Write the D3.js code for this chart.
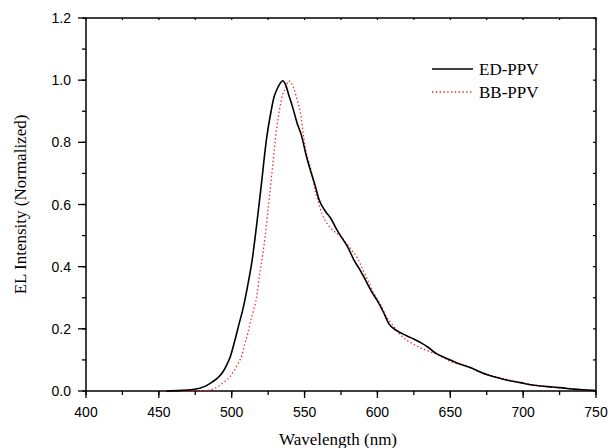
<!doctype html>
<html lang="en">
<head>
    <meta charset="UTF-8">
    <title>EL spectra</title>
    <style>
        html, body { margin: 0; padding: 0; background: #fff; }
        svg { display: block; }
        .tick-label { font-family: "Liberation Sans", Arial, sans-serif; font-size: 14px; fill: #000; }
        .title { font-family: "Liberation Serif", "Times New Roman", serif; font-size: 17px; fill: #000; }
    </style>
</head>
<body>
<svg id="chart" width="608" height="448"></svg>

<script src="https://cdn.jsdelivr.net/npm/d3@7"></script>
<script>
  // values (wavelength nm, normalized intensity)
  const edWavelength = [455, 465, 472, 478, 483, 487, 491, 494, 497, 499, 502, 505, 508, 511, 514, 517, 520, 524, 527, 529, 531, 533, 535, 537, 539, 542, 545, 548, 551, 554, 557, 560, 564, 568, 572, 576, 580, 584, 588, 592, 596, 600, 604, 608, 613, 620, 625, 630, 635, 640, 645, 650, 657, 665, 670, 677, 684, 690, 698, 705, 712, 720, 727, 735, 742, 750]
  const edIntensity = [0, 0.002, 0.004, 0.009, 0.018, 0.03, 0.045, 0.062, 0.088, 0.11, 0.16, 0.215, 0.27, 0.34, 0.42, 0.53, 0.65, 0.815, 0.9, 0.945, 0.97, 0.988, 0.998, 0.985, 0.955, 0.91, 0.86, 0.82, 0.76, 0.71, 0.665, 0.615, 0.58, 0.555, 0.52, 0.49, 0.46, 0.42, 0.39, 0.355, 0.32, 0.29, 0.255, 0.215, 0.195, 0.178, 0.167, 0.155, 0.14, 0.122, 0.11, 0.1, 0.086, 0.073, 0.062, 0.05, 0.041, 0.034, 0.027, 0.02, 0.016, 0.013, 0.01, 0.006, 0.004, 0.001]

  const bbWavelength = [455, 470, 480, 485, 489, 492, 495, 499, 502, 504.5, 507, 509, 511, 513, 515, 517, 519, 521, 523, 526, 528, 531, 533, 535, 537, 539, 541, 543, 545, 547, 549, 551, 553, 555, 557, 559, 562, 566, 570, 574, 578, 582, 586, 590, 594, 598, 602, 606, 610, 615, 620, 625, 630, 635, 640, 645, 650, 657, 665, 672, 680, 690, 700, 710, 720, 730, 740, 750]
  const bbIntensity = [0, 0, 0.001, 0.003, 0.01, 0.019, 0.03, 0.047, 0.068, 0.089, 0.115, 0.153, 0.185, 0.225, 0.26, 0.3, 0.37, 0.43, 0.5, 0.63, 0.72, 0.85, 0.91, 0.955, 0.975, 0.998, 0.99, 0.968, 0.935, 0.9, 0.83, 0.77, 0.735, 0.7, 0.65, 0.615, 0.57, 0.535, 0.515, 0.5, 0.48, 0.455, 0.43, 0.39, 0.35, 0.31, 0.28, 0.24, 0.215, 0.185, 0.164, 0.15, 0.138, 0.128, 0.12, 0.108, 0.095, 0.085, 0.072, 0.058, 0.047, 0.036, 0.025, 0.018, 0.012, 0.008, 0.004, 0]

  const seriesNames = ['ED-PPV', 'BB-PPV']
  const xTicks = [400, 450, 500, 550, 600, 650, 700, 750]
  const yTicks = [0.0, 0.2, 0.4, 0.6, 0.8, 1.0, 1.2]

  const margin = {left: 86, right: 12, top: 18, bottom: 57}
  const width = 608 - margin.left - margin.right
  const height = 448 - margin.top - margin.bottom

  const svg = d3.select('#chart')
  const g = svg.append('g').attr('transform', `translate(${margin.left},${margin.top})`)

  const x = d3.scaleLinear().domain([400, 750]).range([0, width])
  const y = d3.scaleLinear().domain([0, 1.2]).range([height, 0])

  // minor ticks
  const xMinor = d3.range(400, 751, 25)
  const yMinor = d3.range(0, 1.21, 0.1)

  // bottom axis
  const bottom = g.append('g').attr('transform', `translate(0,${height})`)
  bottom.selectAll('line.minor').data(xMinor).join('line')
    .attr('x1', d => x(d)).attr('x2', d => x(d)).attr('y1', 0).attr('y2', 4)
    .attr('stroke', '#000').attr('stroke-width', 1.3)
  bottom.selectAll('line.major').data(xTicks).join('line')
    .attr('x1', d => x(d)).attr('x2', d => x(d)).attr('y1', 0).attr('y2', 7)
    .attr('stroke', '#000').attr('stroke-width', 1.3)
  bottom.selectAll('text').data(xTicks).join('text')
    .attr('class', 'tick-label')
    .attr('x', d => x(d)).attr('y', 26)
    .attr('text-anchor', 'middle')
    .text(d => d)

  // left axis
  const left = g.append('g')
  left.selectAll('line.minor').data(yMinor).join('line')
    .attr('x1', -4).attr('x2', 0).attr('y1', d => y(d)).attr('y2', d => y(d))
    .attr('stroke', '#000').attr('stroke-width', 1.3)
  left.selectAll('line.major').data(yTicks).join('line')
    .attr('x1', -8).attr('x2', 0).attr('y1', d => y(d)).attr('y2', d => y(d))
    .attr('stroke', '#000').attr('stroke-width', 1.3)
  left.selectAll('text').data(yTicks).join('text')
    .attr('class', 'tick-label')
    .attr('x', -15).attr('y', d => y(d) + 5)
    .attr('text-anchor', 'end')
    .text(d => d.toFixed(1))

  // right & top inward ticks
  g.append('g').selectAll('line').data(yMinor).join('line')
    .attr('x1', width - 3).attr('x2', width).attr('y1', d => y(d)).attr('y2', d => y(d))
    .attr('stroke', '#000').attr('stroke-width', 1.2)
  g.append('g').selectAll('line').data(xMinor).join('line')
    .attr('x1', d => x(d)).attr('x2', d => x(d)).attr('y1', 0).attr('y2', 2)
    .attr('stroke', '#000').attr('stroke-width', 1.2)

  // frame
  g.append('rect')
    .attr('width', width).attr('height', height)
    .attr('fill', 'none').attr('stroke', '#000').attr('stroke-width', 1.5)

  const line = d3.line()
    .x(d => x(d[0]))
    .y(d => y(d[1]))
    .curve(d3.curveMonotoneX)

  const bbData = d3.zip(bbWavelength, bbIntensity)
  const edData = d3.zip(edWavelength, edIntensity)

  g.append('path')
    .attr('d', line(bbData))
    .attr('fill', 'none')
    .attr('stroke', '#ff2020')
    .attr('stroke-width', 1.3)
    .attr('stroke-dasharray', '1.4,2.4')

  g.append('path')
    .attr('d', line(edData))
    .attr('fill', 'none')
    .attr('stroke', '#000')
    .attr('stroke-width', 1.6)
    .attr('stroke-linejoin', 'round')

  // legend
  const legend = svg.append('g')
  const styles = [
    {stroke: '#000', dash: null, w: 1.4},
    {stroke: '#ff2020', dash: '1.4,2.4', w: 1.3}
  ]
  seriesNames.forEach((name, i) => {
    const ly = 69 + i * 23
    legend.append('line')
      .attr('x1', 432).attr('x2', 473).attr('y1', ly).attr('y2', ly)
      .attr('stroke', styles[i].stroke).attr('stroke-width', styles[i].w)
      .attr('stroke-dasharray', styles[i].dash)
    legend.append('text')
      .attr('class', 'title')
      .attr('x', 479).attr('y', ly + 6)
      .text(name)
  })

  // axis titles
  svg.append('text')
    .attr('class', 'title')
    .attr('x', margin.left + width / 2 - 3).attr('y', 445)
    .attr('text-anchor', 'middle')
    .text('Wavelength (nm)')

  svg.append('text')
    .attr('class', 'title')
    .attr('transform', `translate(26,${margin.top + height / 2}) rotate(-90)`)
    .attr('text-anchor', 'middle')
    .text('EL Intensity (Normalized)')
</script>
</body>
</html>
